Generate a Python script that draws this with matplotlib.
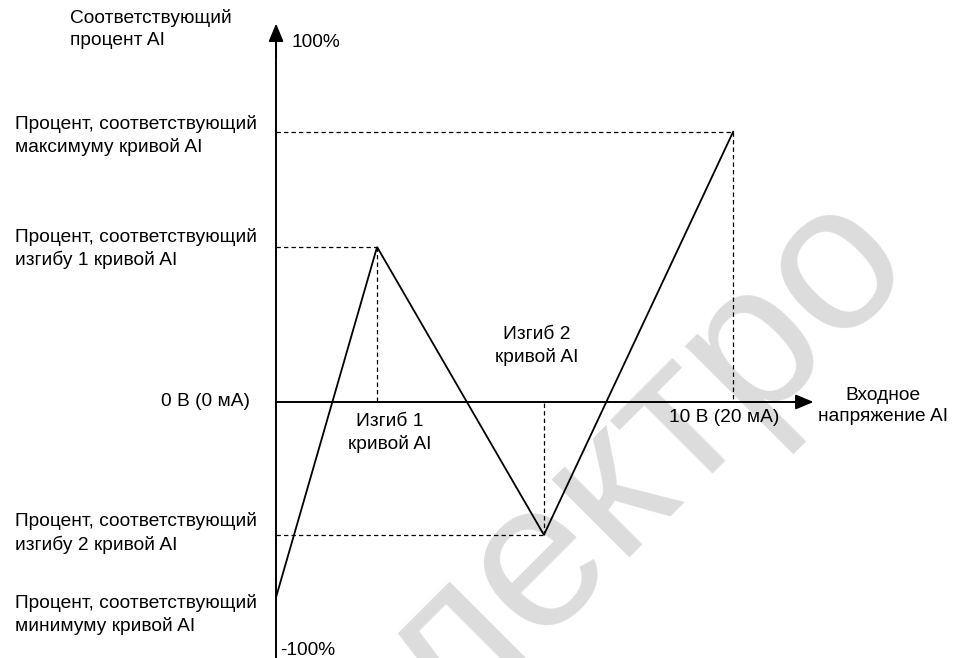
import matplotlib
matplotlib.use("Agg")
import matplotlib.pyplot as plt

plt.rcParams['font.family'] = ['Liberation Sans', 'DejaVu Sans']

# AI curve: input voltage (V) vs corresponding percent
volts = [0.0, 2.21, 5.86, 10.0]
percent = [-53.9, 42.8, -36.7, 74.6]

# label texts
y_title = "Соответствующий\nпроцент AI"
x_title = "Входное\nнапряжение AI"
max_label = "Процент, соответствующий\nмаксимуму кривой AI"
bend1_label = "Процент, соответствующий\nизгибу 1 кривой AI"
bend2_label = "Процент, соответствующий\nизгибу 2 кривой AI"
min_label = "Процент, соответствующий\nминимуму кривой AI"
bend1_x_label = "Изгиб 1\nкривой AI"
bend2_x_label = "Изгиб 2\nкривой AI"

fig = plt.figure(figsize=(9.58, 6.58), dpi=100)
ax = fig.add_axes([0, 0, 1, 1])
ax.set_xlim(-6.04, 14.92)
ax.set_ylim(-70.7, 111.0)
ax.axis('off')

fs = 13.8
ls = 1.35

# watermark
ax.text(7.3, -26.0, "электро", fontsize=150, color='#dcdcdc', rotation=45,
        ha='center', va='center', rotation_mode='anchor', zorder=0)

# axes with arrow heads
ax.plot([0, 0], [-70.7, 100], color='k', lw=1.4, zorder=3)
ax.annotate('', xy=(0, 104.5), xytext=(0, 95),
            arrowprops=dict(arrowstyle='-|>,head_length=0.6,head_width=0.25',
                            color='k', lw=1.4, mutation_scale=18,
                            shrinkA=0, shrinkB=0), zorder=3)
ax.plot([0, 11.5], [0, 0], color='k', lw=1.4, zorder=3)
ax.annotate('', xy=(11.76, 0), xytext=(11.3, 0),
            arrowprops=dict(arrowstyle='-|>,head_length=0.6,head_width=0.25',
                            color='k', lw=1.4, mutation_scale=18,
                            shrinkA=0, shrinkB=0), zorder=3)

# dashed guides for the bends and the maximum
dash = dict(color='k', lw=0.9, linestyle=(0, (3.5, 2.5)), zorder=2)
for v, p in zip(volts[1:], percent[1:]):
    ax.plot([0, v], [p, p], **dash)
    ax.plot([v, v], [p, 0], **dash)

# the curve
ax.plot(volts, percent, color='k', lw=1.3, zorder=4, solid_joinstyle='miter')

# texts
ax.text(-4.51, 103.0, y_title, fontsize=fs, linespacing=ls, ha='left', va='center')
ax.text(0.33, 99.4, "100%", fontsize=fs, ha='left', va='center')
ax.text(-5.71, 73.5, max_label, fontsize=fs, linespacing=ls, ha='left', va='center')
ax.text(-5.71, 42.3, bend1_label, fontsize=fs, linespacing=ls, ha='left', va='center')
ax.text(-0.57, 0, "0 В (0 мА)", fontsize=fs, ha='right', va='center')
ax.text(2.49, -8.6, bend1_x_label, fontsize=fs, linespacing=ls, ha='center', va='center')
ax.text(5.71, 15.5, bend2_x_label, fontsize=fs, linespacing=ls, ha='center', va='center')
ax.text(9.80, -4.4, "10 В (20 мА)", fontsize=fs, ha='center', va='center')
ax.text(13.28, -1.1, x_title, fontsize=fs, linespacing=ls, ha='center', va='center')
ax.text(-5.71, -36.2, bend2_label, fontsize=fs, linespacing=ls, ha='left', va='center')
ax.text(-5.71, -58.8, min_label, fontsize=fs, linespacing=ls, ha='left', va='center')
ax.text(0.09, -68.5, "-100%", fontsize=fs, ha='left', va='center')

fig.savefig("out.png", dpi=100)
